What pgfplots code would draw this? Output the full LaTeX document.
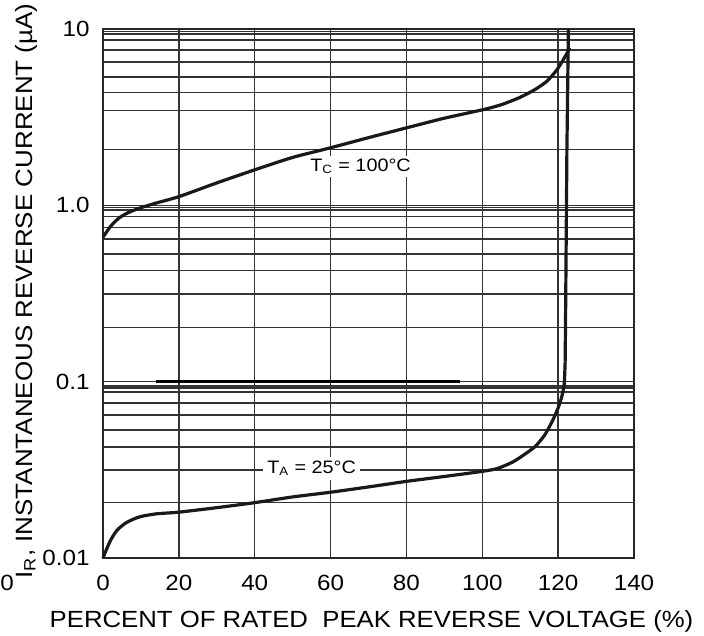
\documentclass[border=0pt]{standalone}
\usepackage{fontspec}
\setmainfont{Liberation Sans}[FakeStretch=1.1]
\usepackage{pgfplots}
\pgfplotsset{compat=1.18}
\begin{document}
\begin{tikzpicture}
\useasboundingbox (-51.5pt,-38.5pt) rectangle (300.5pt,279pt);
\begin{axis}[
  at={(0pt,0pt)}, anchor=south west,
  scale only axis, width=265.5pt, height=264.5pt,
  ymode=log, xmin=0, xmax=140, ymin=0.01, ymax=10,
  xtick={0,20,...,140},
  ytick={0.01,0.1,1,10}, yticklabels={0.01,0.1,1.0,10},
  minor ytick={0.0206,0.0316,0.0427,0.0533,0.0648,0.0755,0.0875,0.0918,0.0947,
               0.203,0.314,0.428,0.530,0.645,0.750,0.866,0.939,0.970,
               2.07,3.44,4.37,5.36,6.52,7.6,8.69,9.37,9.68},
  grid=both,
  major grid style={black!80, line width=0.75pt},
  minor grid style={black!80, line width=0.75pt},
  axis line style={black!85, line width=0.75pt},
  major tick length=0pt, minor tick length=0pt,
  tick label style={font=\fontsize{11}{12}\selectfont},
  /pgf/number format/assume math mode=true,
  xticklabel style={anchor=north, inner sep=0pt, yshift=-8.5pt},
  yticklabel style={anchor=east, inner sep=0pt, xshift=-6.5pt},
  xlabel={PERCENT OF RATED\ \ PEAK REVERSE VOLTAGE (\%)},
  ylabel={I\textsubscript{R}, INSTANTANEOUS REVERSE CURRENT (µA)},
  xlabel style={at={(axis description cs:0.5056,-0.1323)}, anchor=base, font=\fontsize{11.7}{13}\selectfont},
  ylabel style={at={(axis description cs:-0.1337,0.505)}, anchor=base, font=\fontsize{11.8}{13}\selectfont},
  clip=false,
]
% thick segment on the 0.1 line
\addplot[black, line width=1.2pt] coordinates {(14,0.1) (94,0.1)};
% T_C = 100 C
\addplot[black!90, line width=1.6pt, line join=round, smooth, tension=0.4] coordinates {
 (0,0.66) (2,0.76) (4,0.84) (6,0.895) (8,0.935) (10,0.97) (14,1.03) (20,1.12)
 (30,1.34) (40,1.59) (50,1.87) (60,2.12) (70,2.42) (80,2.75) (90,3.12) (100,3.48)
 (105,3.72) (110,4.1) (114,4.55) (117,5.05) (119.5,5.8) (121,6.5) (122.5,7.4) (123.1,7.8)};
% T_A = 25 C
\addplot[black!90, line width=1.6pt, line join=round, smooth, tension=0.4] coordinates {
 (0,0.0100) (1,0.0113) (2,0.0126) (3,0.0137) (4,0.0146) (6,0.0158) (8,0.0166)
 (10,0.0172) (14,0.0178) (20,0.0182) (30,0.0193) (40,0.0206) (50,0.0222)
 (60,0.0236) (70,0.0253) (80,0.0272) (90,0.0290) (100,0.0310) (104,0.0322)
 (108,0.0350) (111,0.0385) (114,0.0430) (116.5,0.0500) (118.5,0.0600)
 (120,0.0710) (121,0.0830) (121.6,0.097) (121.85,0.13)};
\addplot[black!90, line width=1.6pt, line join=round] coordinates {
 (121.85,0.13) (122.0,0.3) (122.3,2.0) (122.7,10)};
\node[fill=white, inner sep=1.5pt, font=\fontsize{9}{10}\selectfont] at (axis cs:67.9,1.66) {T\textsubscript{C} = 100°C};
\node[fill=white, inner sep=2pt, font=\fontsize{9}{10}\selectfont] at (axis cs:55.0,0.0322) {T\textsubscript{A} = 25°C};
\node[anchor=north west, inner sep=0pt, font=\fontsize{11}{12}\selectfont] at (rel axis cs:-0.194,0) [yshift=-8.5pt] {0};
\end{axis}
\end{tikzpicture}
\end{document}
